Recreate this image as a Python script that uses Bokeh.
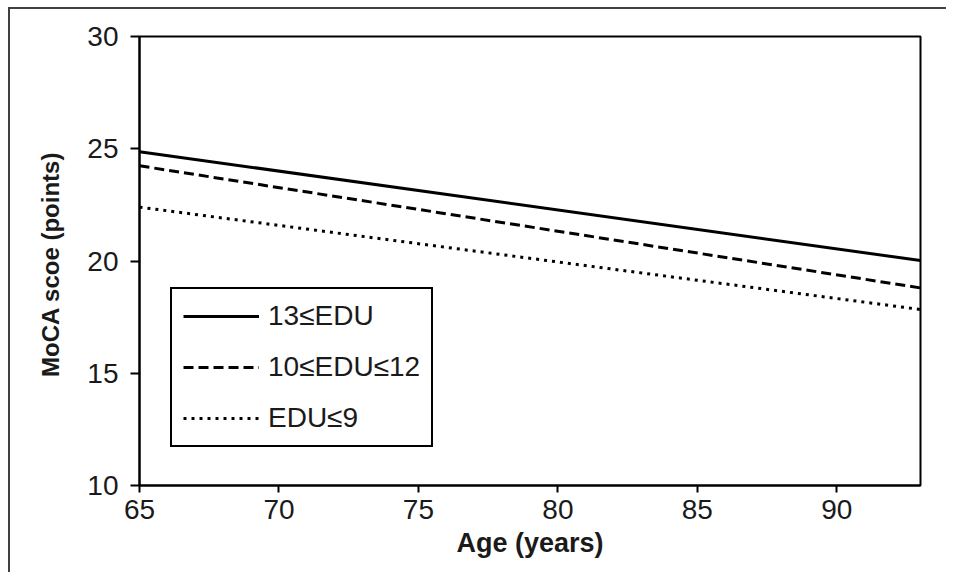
from bokeh.plotting import figure
from bokeh.models import FixedTicker, Legend, LegendItem
from bokeh.embed import file_html
from bokeh.resources import INLINE

# Data
age = [65, 93]
edu_high = [24.87, 20.02]     # 13≤EDU
edu_mid = [24.24, 18.80]      # 10≤EDU≤12
edu_low = [22.40, 17.84]      # EDU≤9
labels = ["13≤EDU", "10≤EDU≤12", "EDU≤9"]
x_ticks = [65, 70, 75, 80, 85, 90]
y_ticks = [10, 15, 20, 25, 30]

FONT = "Liberation Sans"

p = figure(width=938, height=565, output_backend="svg", toolbar_location=None,
           x_range=(65, 93), y_range=(10, 30),
           min_border_left=129, min_border_right=28, min_border_top=27, min_border_bottom=89)
p.styles = {"border-left": "2px solid #404040", "border-top": "2px solid #404040",
            "margin-left": "8px", "margin-top": "7px"}

p.xgrid.visible = False
p.ygrid.visible = False
p.outline_line_color = "black"
p.outline_line_width = 2
p.outline_line_alpha = 1
p.background_fill_color = "white"
p.border_fill_color = "white"

r1 = p.line(age, edu_high, line_color="black", line_width=3)
r2 = p.line(age, edu_mid, line_color="black", line_width=3, line_dash="10 5")
r3 = p.line(age, edu_low, line_color="black", line_width=3, line_dash="3 5")

for ax in (p.xaxis[0], p.yaxis[0]):
    ax.axis_line_color = "black"
    ax.axis_line_width = 2
    ax.major_tick_line_color = "black"
    ax.major_tick_line_width = 2
    ax.major_tick_in = 0
    ax.minor_tick_line_color = None
    ax.major_label_text_font = FONT
    ax.major_label_text_font_size = "28px"
    ax.major_label_text_color = "#1a1a1a"
    ax.axis_label_text_font = FONT
    ax.axis_label_text_font_style = "bold"
    ax.axis_label_text_color = "#1a1a1a"

p.xaxis.ticker = FixedTicker(ticks=x_ticks)
p.yaxis.ticker = FixedTicker(ticks=y_ticks)
p.xaxis.major_tick_out = 7
p.yaxis.major_tick_out = 9
p.xaxis.major_label_standoff = 7
p.yaxis.major_label_standoff = 12
p.xaxis.axis_label = "Age (years)"
p.yaxis.axis_label = "MoCA  scoe (points)"
p.xaxis.axis_label_text_font_size = "27px"
p.yaxis.axis_label_text_font_size = "24px"
p.xaxis.axis_label_standoff = 6
p.yaxis.axis_label_standoff = 20

legend = Legend(items=[LegendItem(label=labels[0], renderers=[r1]),
                       LegendItem(label=labels[1], renderers=[r2]),
                       LegendItem(label=labels[2], renderers=[r3])],
                location=(31, 38))
legend.border_line_color = "black"
legend.border_line_width = 2
legend.border_line_alpha = 1
legend.background_fill_color = "white"
legend.background_fill_alpha = 1
legend.label_text_font = FONT
legend.label_text_font_size = "28px"
legend.label_text_color = "#1a1a1a"
legend.glyph_width = 76
legend.glyph_height = 30
legend.label_height = 30
legend.label_standoff = 9
legend.spacing = 19
legend.padding = 11
legend.margin = 0
p.add_layout(legend)

open("out.html", "w").write(file_html(p, INLINE))
